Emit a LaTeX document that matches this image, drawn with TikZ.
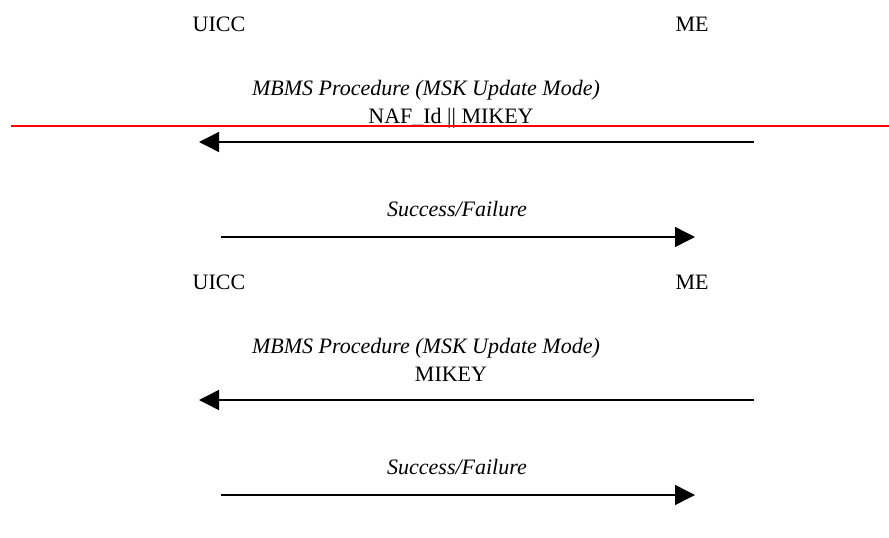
\documentclass[tikz,border=0pt]{standalone}
\usepackage{fontspec}
\setmainfont{Liberation Serif}
\usetikzlibrary{arrows.meta}

\begin{document}
\begin{tikzpicture}[x=1pt, y=-1pt, font=\fontsize{22}{26}\selectfont,
	lbl/.style={anchor=base, inner sep=0pt},
	note/.style={lbl, font=\fontsize{22}{26}\selectfont\itshape},
	msg/.style={line width=1.5pt, -{Triangle[length=20pt, width=20pt]}}]
	\useasboundingbox (0,0) rectangle (889,538);
	% first exchange
	\node[lbl] (uiccA) at (219,31) {UICC};
	\node[lbl] (meA) at (692,31) {ME};
	\node[note] (procA) at (426,95) {MBMS Procedure (MSK Update Mode)};
	\node[lbl] (dataA) at (451,123) {NAF\_Id || MIKEY};
	\coordinate (redL) at (11,125.5);
	\coordinate (redR) at (889,125.5);
	\draw[red, line width=2pt] (redL) -- (redR);
	\coordinate (meOutA) at (754,142);
	\coordinate (uiccInA) at (199,142);
	\draw[msg] (meOutA) -- (uiccInA);
	\node[note] (resA) at (457,216) {Success/Failure};
	\coordinate (uiccOutA) at (221,237);
	\coordinate (meInA) at (695,237);
	\draw[msg] (uiccOutA) -- (meInA);
	% second exchange
	\node[lbl] (uiccB) at (219,289) {UICC};
	\node[lbl] (meB) at (692,289) {ME};
	\node[note] (procB) at (426,353) {MBMS Procedure (MSK Update Mode)};
	\node[lbl] (dataB) at (451,381) {MIKEY};
	\coordinate (meOutB) at (754,400);
	\coordinate (uiccInB) at (199,400);
	\draw[msg] (meOutB) -- (uiccInB);
	\node[note] (resB) at (457,474) {Success/Failure};
	\coordinate (uiccOutB) at (221,495);
	\coordinate (meInB) at (695,495);
	\draw[msg] (uiccOutB) -- (meInB);
\end{tikzpicture}
\end{document}
